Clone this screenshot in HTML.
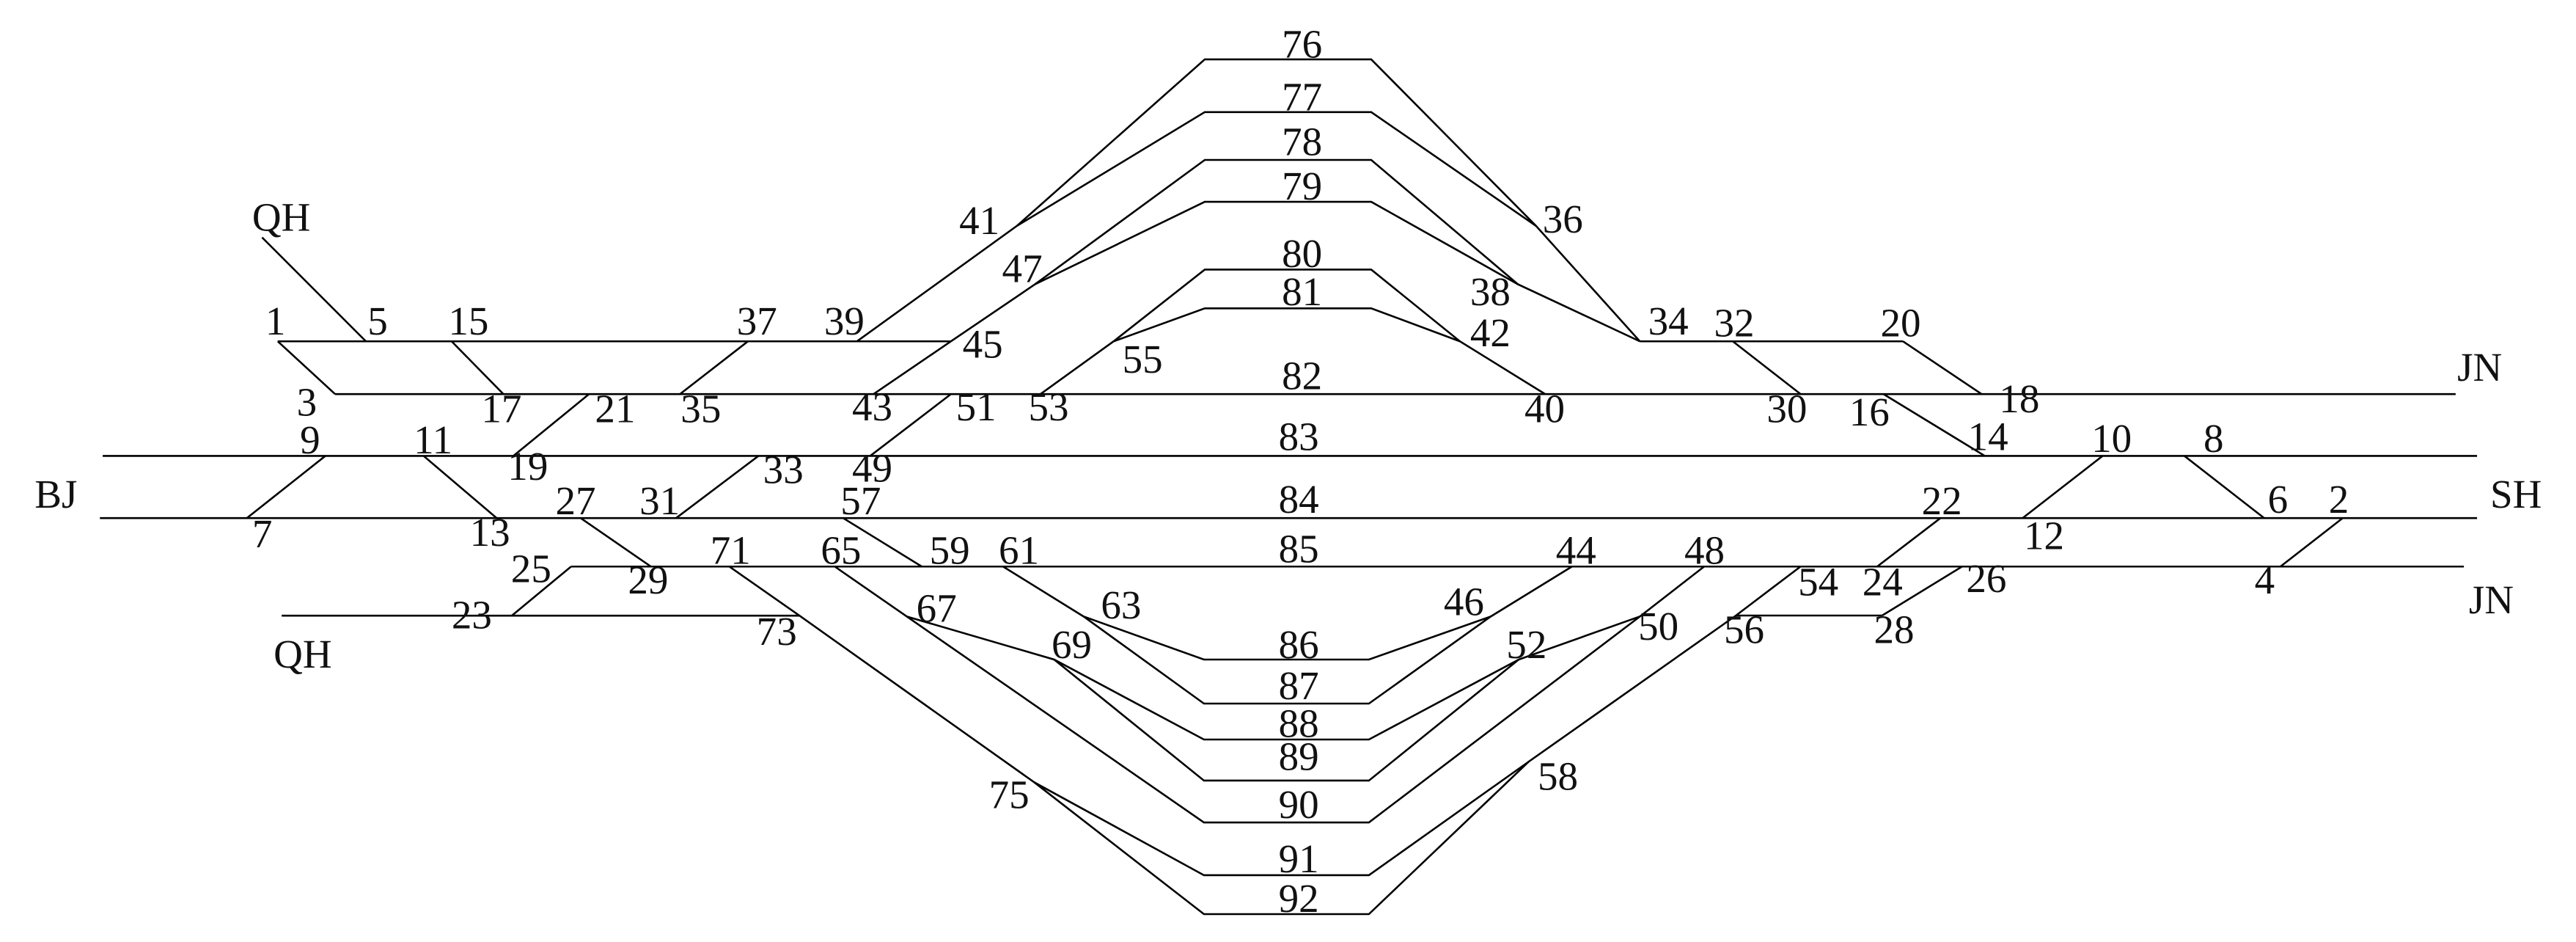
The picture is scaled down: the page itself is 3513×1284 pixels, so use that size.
<!DOCTYPE html>
<html><head><meta charset="utf-8"><style>
html,body{margin:0;padding:0;background:#fff;}
svg{display:block;}
text{font-family:"Liberation Serif",serif;font-size:24.5px;fill:#111;}
.c{text-anchor:middle;}
</style></head><body>
<svg width="3513" height="1284" viewBox="0 0 1563 571.3" xmlns="http://www.w3.org/2000/svg">
<g fill="none" stroke="#000" stroke-width="1.15" stroke-linejoin="miter">
<line x1="168.5" y1="207" x2="577" y2="207"/>
<line x1="203.3" y1="239" x2="1490" y2="239"/>
<line x1="62.3" y1="276.5" x2="1503" y2="276.5"/>
<line x1="60.6" y1="314.2" x2="1503" y2="314.2"/>
<line x1="346.5" y1="343.6" x2="1495" y2="343.6"/>
<line x1="170.9" y1="373.4" x2="485.1" y2="373.4"/>
<line x1="995" y1="207" x2="1154.6" y2="207"/>
<line x1="1053.3" y1="373.3" x2="1142" y2="373.3"/>
<line x1="159" y1="144" x2="222" y2="207"/>
<line x1="168.5" y1="207" x2="203.3" y2="239"/>
<line x1="274" y1="207" x2="305.4" y2="239"/>
<line x1="453.8" y1="207" x2="412.6" y2="239"/>
<line x1="357.4" y1="239" x2="311.5" y2="276.5"/>
<line x1="197.4" y1="276.5" x2="149.8" y2="314.2"/>
<line x1="257" y1="276.5" x2="301.3" y2="314.2"/>
<line x1="460.2" y1="276.5" x2="410.2" y2="314.2"/>
<line x1="352.3" y1="314.2" x2="394.9" y2="343.6"/>
<line x1="346.5" y1="343.6" x2="310.5" y2="373.4"/>
<line x1="577" y1="239" x2="528" y2="276.5"/>
<line x1="511.6" y1="314.2" x2="559.3" y2="343.6"/>
<line x1="1051.4" y1="207" x2="1092.5" y2="239"/>
<line x1="1154.6" y1="207" x2="1202.4" y2="239"/>
<line x1="1142.8" y1="239" x2="1204.3" y2="276.5"/>
<line x1="1275.8" y1="276.5" x2="1227.3" y2="314.2"/>
<line x1="1325.4" y1="276.5" x2="1373.8" y2="314.2"/>
<line x1="1421.5" y1="314.2" x2="1383.7" y2="343.6"/>
<line x1="1177.4" y1="314.2" x2="1139" y2="343.6"/>
<line x1="1190.5" y1="343.6" x2="1142" y2="373.3"/>
<polyline points="520,207 617,137 731,36 832,36 932,137 995,207"/>
<polyline points="617,137 731,68 832,68 932,137"/>
<polyline points="530,239 577,207 628,172.4 731,97 832,97 921,172.4 995,207"/>
<polyline points="628,172.4 731,122.4 832,122.4 921,172.4"/>
<polyline points="631.3,239 675.7,207 731,163.5 832,163.5 885.8,207 937.5,239"/>
<polyline points="675.7,207 731,187 832,187 885.8,207"/>
<polyline points="608.6,343.6 657.5,373.9 730.5,426.7 830.6,426.7 904.5,373.9 953.8,343.6"/>
<polyline points="657.5,373.9 730.5,400 830.6,400 904.5,373.9"/>
<polyline points="506.5,343.6 550.2,373.9 730.5,498.8 830.6,498.8 995,373.9 1034,343.6"/>
<polyline points="550.2,373.9 639.6,400 730.5,448.5 830.6,448.5 921.5,400 995,373.9"/>
<polyline points="639.6,400 730.5,473.4 830.6,473.4 921.5,400"/>
<polyline points="442.5,343.6 485.1,373.4 627.6,474.5 730.5,554.4 830.6,554.4 927.6,461.9 1053.3,373.3 1092.5,343.6"/>
<polyline points="627.6,474.5 730.5,530.8 830.6,530.8 927.6,461.9"/>
</g>
<g>
<text class="c" x="790" y="35">76</text>
<text class="c" x="790" y="67">77</text>
<text class="c" x="790" y="94">78</text>
<text class="c" x="790" y="121">79</text>
<text class="c" x="790" y="162">80</text>
<text class="c" x="790" y="185">81</text>
<text class="c" x="790" y="236">82</text>
<text class="c" x="788" y="273">83</text>
<text class="c" x="788" y="311">84</text>
<text class="c" x="788" y="341">85</text>
<text class="c" x="788" y="399">86</text>
<text class="c" x="788" y="424">87</text>
<text class="c" x="788" y="447">88</text>
<text class="c" x="788" y="467">89</text>
<text class="c" x="788" y="496">90</text>
<text class="c" x="788" y="529">91</text>
<text class="c" x="788" y="553">92</text>
<text x="153" y="140">QH</text>
<text x="161" y="203">1</text>
<text x="223" y="203">5</text>
<text x="272" y="203">15</text>
<text x="447" y="203">37</text>
<text x="500" y="203">39</text>
<text x="180" y="252">3</text>
<text x="292" y="256">17</text>
<text x="361" y="256">21</text>
<text x="413" y="256">35</text>
<text x="517" y="255">43</text>
<text x="580" y="255">51</text>
<text x="624" y="255">53</text>
<text x="925" y="256">40</text>
<text x="681" y="226">55</text>
<text x="584" y="217">45</text>
<text x="608" y="171">47</text>
<text x="582" y="142">41</text>
<text x="936" y="141">36</text>
<text x="892" y="185">38</text>
<text x="892" y="210">42</text>
<text x="1000" y="203">34</text>
<text x="1040" y="204">32</text>
<text x="1141" y="204">20</text>
<text x="1072" y="256">30</text>
<text x="1122" y="258">16</text>
<text x="1213" y="250">18</text>
<text x="1491" y="231">JN</text>
<text x="1194" y="273">14</text>
<text x="1269" y="274">10</text>
<text x="1337" y="274">8</text>
<text x="1376" y="311">6</text>
<text x="1413" y="311">2</text>
<text x="1511" y="308">SH</text>
<text x="1166" y="312">22</text>
<text x="1228" y="333">12</text>
<text x="1022" y="342">48</text>
<text x="1091" y="361">54</text>
<text x="1130" y="361">24</text>
<text x="1193" y="359">26</text>
<text x="1368" y="360">4</text>
<text x="1498" y="372">JN</text>
<text x="994" y="388">50</text>
<text x="1046" y="390">56</text>
<text x="1137" y="390">28</text>
<text x="510" y="312">57</text>
<text x="498" y="342">65</text>
<text x="564" y="342">59</text>
<text x="606" y="342">61</text>
<text x="944" y="342">44</text>
<text x="668" y="375">63</text>
<text x="556" y="377">67</text>
<text x="876" y="373">46</text>
<text x="638" y="399">69</text>
<text x="914" y="399">52</text>
<text x="459" y="391">73</text>
<text x="600" y="490">75</text>
<text x="933" y="479">58</text>
<text x="431" y="342">71</text>
<text x="381" y="360">29</text>
<text x="310" y="353">25</text>
<text x="274" y="381">23</text>
<text x="166" y="405">QH</text>
<text x="337" y="312">27</text>
<text x="388" y="312">31</text>
<text x="463" y="293">33</text>
<text x="517" y="292">49</text>
<text x="285" y="331">13</text>
<text x="153" y="332">7</text>
<text x="182" y="275">9</text>
<text x="251" y="275">11</text>
<text x="308" y="291">19</text>
<text x="21" y="308">BJ</text>
</g>
</svg>
</body></html>
